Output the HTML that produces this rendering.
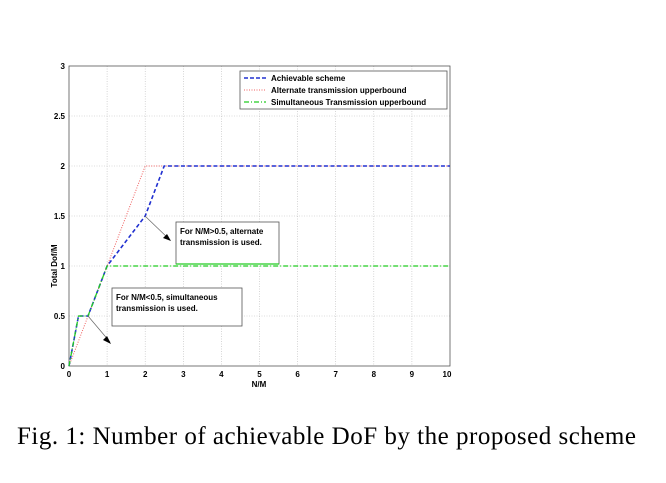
<!DOCTYPE html>
<html><head><style>
body{margin:0;background:#fff;width:666px;height:483px;overflow:hidden}
</style></head><body>
<svg width="666" height="483" xmlns="http://www.w3.org/2000/svg" style="position:absolute;left:0;top:0">
<g font-family="Liberation Sans, sans-serif" font-size="8" font-weight="bold" fill="#000">
<g stroke="#bbb" stroke-width="0.6" stroke-dasharray="1,1.5">
<line x1="107.1" y1="66" x2="107.1" y2="366"/><line x1="145.2" y1="66" x2="145.2" y2="366"/>
<line x1="183.3" y1="66" x2="183.3" y2="366"/><line x1="221.4" y1="66" x2="221.4" y2="366"/>
<line x1="259.5" y1="66" x2="259.5" y2="366"/><line x1="297.6" y1="66" x2="297.6" y2="366"/>
<line x1="335.7" y1="66" x2="335.7" y2="366"/><line x1="373.8" y1="66" x2="373.8" y2="366"/>
<line x1="411.9" y1="66" x2="411.9" y2="366"/>
<line x1="69" y1="316" x2="450" y2="316"/><line x1="69" y1="266" x2="450" y2="266"/>
<line x1="69" y1="216" x2="450" y2="216"/><line x1="69" y1="166" x2="450" y2="166"/>
<line x1="69" y1="116" x2="450" y2="116"/>
</g>
<rect x="69" y="66" width="381" height="300" fill="none" stroke="#555" stroke-width="0.8"/>
<g text-anchor="middle">
<text x="69" y="377">0</text><text x="107.1" y="377">1</text><text x="145.2" y="377">2</text>
<text x="183.3" y="377">3</text><text x="221.4" y="377">4</text><text x="259.5" y="377">5</text>
<text x="297.6" y="377">6</text><text x="335.7" y="377">7</text><text x="373.8" y="377">8</text>
<text x="411.9" y="377">9</text><text x="447" y="377">10</text>
<text x="259" y="387">N/M</text>
</g>
<g text-anchor="end">
<text x="65" y="369">0</text><text x="65" y="319">0.5</text><text x="65" y="269">1</text>
<text x="65" y="219">1.5</text><text x="65" y="169">2</text><text x="65" y="119">2.5</text>
<text x="65" y="69">3</text>
</g>
<text transform="translate(57,266) rotate(-90)" text-anchor="middle">Total Dof/M</text>
<polyline points="69,366 145.2,166 450,166" fill="none" stroke="#f06060" stroke-width="1" stroke-dasharray="1,1.5"/>
<polyline points="69,366 78.5,316 88,316 107.1,266 145.2,216 164.2,166 450,166" fill="none" stroke="#2030d0" stroke-width="1.6" stroke-dasharray="4,2.5"/>
<polyline points="69,366 78.5,316 88,316 107.1,266 450,266" fill="none" stroke="#22cc22" stroke-width="1.3" stroke-dasharray="5,2,1,2"/>
<rect x="240" y="71" width="207" height="38" fill="#fff" stroke="#555" stroke-width="0.8"/>
<line x1="244" y1="78" x2="266" y2="78" stroke="#2030d0" stroke-width="1.6" stroke-dasharray="4,2"/>
<line x1="244" y1="90" x2="266" y2="90" stroke="#f06060" stroke-width="1" stroke-dasharray="1,1.5"/>
<line x1="244" y1="102" x2="266" y2="102" stroke="#22cc22" stroke-width="1.3" stroke-dasharray="5,2,1,2"/>
<text x="271" y="81">Achievable scheme</text>
<text x="271" y="93">Alternate transmission upperbound</text>
<text x="271" y="105">Simultaneous Transmission upperbound</text>
<rect x="176" y="222" width="103" height="42" fill="#fff" stroke="#555" stroke-width="0.8"/>
<text x="180" y="234">For N/M&gt;0.5, alternate</text>
<text x="180" y="245">transmission is used.</text>
<line x1="176" y1="264" x2="279" y2="264" stroke="#22cc22" stroke-width="1.3"/>
<rect x="112" y="288" width="130" height="38" fill="#fff" stroke="#555" stroke-width="0.8"/>
<text x="116" y="300">For N/M&lt;0.5, simultaneous</text>
<text x="116" y="311">transmission is used.</text>
<line x1="145" y1="216" x2="170" y2="240" stroke="#666" stroke-width="0.7"/>
<polygon points="171,241 163,238 167,234" fill="#000"/>
<line x1="88" y1="316" x2="110" y2="342" stroke="#666" stroke-width="0.7"/>
<polygon points="111,344 103,340 107,336" fill="#000"/>
</g>
<text x="17" y="444" font-family="Liberation Serif, serif" font-size="25" fill="#000" textLength="619" lengthAdjust="spacing">Fig. 1: Number of achievable DoF by the proposed scheme</text>
</svg>
</body></html>
